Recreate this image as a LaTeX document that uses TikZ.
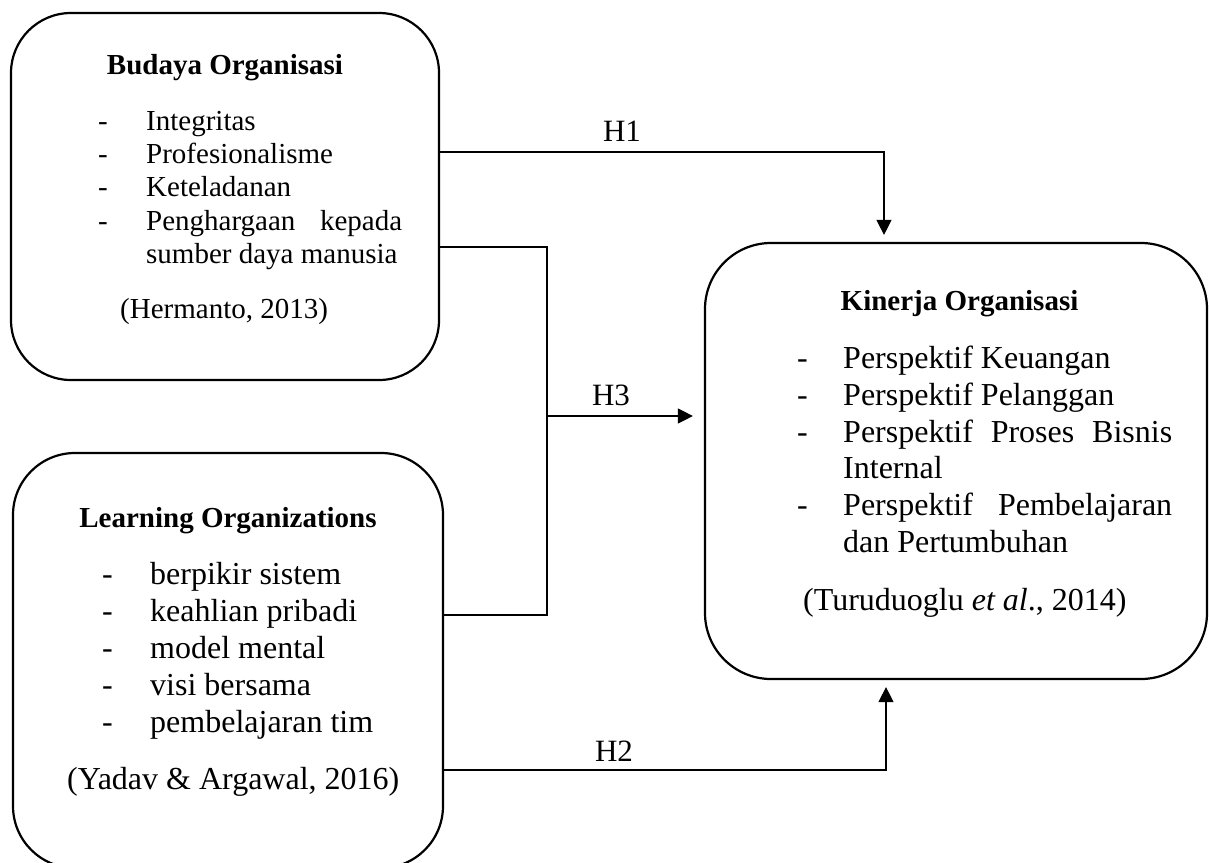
\documentclass[tikz,border=0pt]{standalone}
\usepackage{fontspec}
\setmainfont{Liberation Serif}
\usetikzlibrary{arrows.meta}
\tikzset{
 box/.style={draw, line width=2.2pt, inner sep=0pt},
 conn/.style={line width=1.2pt},
 arr/.style={conn, -{Triangle[length=15pt,width=15pt]}},
 tA/.style={inner sep=0pt, anchor=base west, font=\fontsize{29}{34}\selectfont},
 tB/.style={inner sep=0pt, anchor=base west, font=\fontsize{32}{37}\selectfont},
 ttl/.style={inner sep=0pt, anchor=base, font=\fontsize{29}{34}\selectfont\bfseries},
 hl/.style={inner sep=0pt, anchor=base, font=\fontsize{31}{36}\selectfont},
}
\begin{document}
\begin{tikzpicture}[x=1pt,y=-1pt]
\useasboundingbox (0,0) rectangle (1209,862);
\clip (0,0) rectangle (1209,862);
\fill[white] (0,0) rectangle (1209,862);

% boxes
\node[box, rounded corners=60pt, minimum width=428pt, minimum height=367pt] (b1) at (225,196.5) {};
\node[box, rounded corners=62pt, minimum width=430pt, minimum height=415pt] (b2) at (228,660.5) {};
\node[box, rounded corners=66pt, minimum width=502pt, minimum height=436pt] (b3) at (956,461) {};

% box 1 text
\node[ttl] (t1) at (225,74) {Budaya Organisasi};
\node[tA] (d11) at (98,130) {-};
\node[tA] (i11) at (146,130) {Integritas};
\node[tA] (d12) at (98,163) {-};
\node[tA] (i12) at (146,163) {Profesionalisme};
\node[tA] (d13) at (98,196) {-};
\node[tA] (i13) at (146,196) {Keteladanan};
\node[tA] (d14) at (98,230) {-};
\node[tA] (i14) at (146,230) {\hbox to 256pt{Penghargaan\hfil kepada}};
\node[tA] (i15) at (146,263) {sumber daya manusia};
\node[tA] (c1) at (120,318) {(Hermanto, 2013)};

% box 2 text
\node[ttl] (t2) at (228,527) {Learning Organizations};
\node[tB] (d21) at (102,584) {-};
\node[tB] (i21) at (150,584) {berpikir sistem};
\node[tB] (d22) at (102,621) {-};
\node[tB] (i22) at (150,621) {keahlian pribadi};
\node[tB] (d23) at (102,658) {-};
\node[tB] (i23) at (150,658) {model mental};
\node[tB] (d24) at (102,695) {-};
\node[tB] (i24) at (150,695) {visi bersama};
\node[tB] (d25) at (102,732) {-};
\node[tB] (i25) at (150,732) {pembelajaran tim};
\node[tB] (c2) at (67,789) {(Yadav \& Argawal, 2016)};

% box 3 text
\node[ttl] (t3) at (959.5,310) {Kinerja Organisasi};
\node[tB] (d31) at (797,368) {-};
\node[tB] (i31) at (843,368) {Perspektif Keuangan};
\node[tB] (d32) at (797,405) {-};
\node[tB] (i32) at (843,405) {Perspektif Pelanggan};
\node[tB] (d33) at (797,442) {-};
\node[tB] (i33) at (843,442) {\hbox to 329pt{Perspektif\hfil Proses\hfil Bisnis}};
\node[tB] (i34) at (843,478) {Internal};
\node[tB] (d35) at (797,515) {-};
\node[tB] (i35) at (843,515) {\hbox to 329pt{Perspektif\hfil Pembelajaran}};
\node[tB] (i36) at (843,552) {dan Pertumbuhan};
\node[tB] (c3) at (803,610) {(Turuduoglu \textit{et al}., 2014)};

% connectors
\coordinate (k1) at (884,152);
\draw[arr, shorten >=7pt] (b1.east |- k1) -| (b3.north -| k1);
\node[hl] (h1) at (622,141) {H1};

\coordinate (j1) at (547,247);
\coordinate (j2) at (547,615);
\coordinate (j3) at (547,416);
\draw[conn] (b1.east |- j1) -- (j1) -- (j2) -- (b2.east |- j2);
\draw[arr, shorten >=11pt] (j3) -- (b3.west |- j3);
\node[hl] (h3) at (611,405) {H3};

\coordinate (k2) at (886,770);
\draw[arr, shorten >=7pt] (b2.east |- k2) -| (b3.south -| k2);
\node[hl] (h2) at (614,761) {H2};
\end{tikzpicture}
\end{document}
